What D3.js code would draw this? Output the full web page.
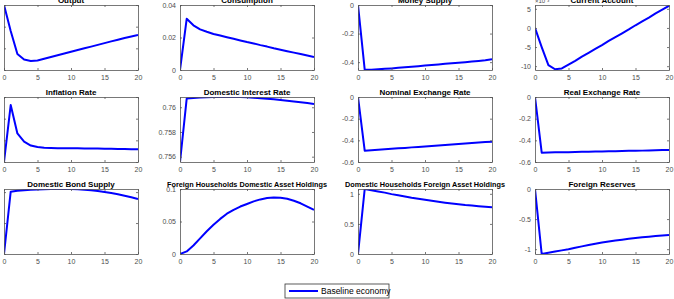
<!DOCTYPE html>
<html lang="en">
<head>
<meta charset="UTF-8">
<title>Impulse responses</title>
<script src="https://d3js.org/d3.v7.min.js"></script>
<style>
  body { margin: 0; background: #fff; font-family: "Liberation Sans", Arial, sans-serif; }
  svg { display: block; }
  .tick text { fill: #4d4d4d; font-size: 7px; }
  .title { font-size: 8px; font-weight: bold; fill: #000; }
</style>
</head>
<body>
<svg id="chart" width="674" height="299"></svg>
<script>
// periods after the shock
const periods = [0,1,2,3,4,5,6,7,8,9,10,11,12,13,14,15,16,17,18,19,20];

const titles = [
  "Output", "Consumption", "Money Supply", "Current Account",
  "Inflation Rate", "Domestic Interest Rate", "Nominal Exchange Rate", "Real Exchange Rate",
  "Domestic Bond Supply", "Foreign Households Domestic Asset Holdings",
  "Domestic Households Foreign Asset Holdings", "Foreign Reserves"
];

// responses
const output = [0, -0.12, -0.226, -0.252, -0.258, -0.256, -0.248, -0.240, -0.232, -0.224, -0.216,
  -0.208, -0.200, -0.192, -0.184, -0.176, -0.168, -0.160, -0.152, -0.145, -0.138];
const consumption = [0, 0.0315, 0.0275, 0.025, 0.0235, 0.0222, 0.0212, 0.0202, 0.0192, 0.0182, 0.0172,
  0.0163, 0.0153, 0.0144, 0.0134, 0.0125, 0.0116, 0.0107, 0.0098, 0.0089, 0.008];
const moneySupply = [0, -0.452, -0.453, -0.45, -0.447, -0.444, -0.44, -0.436, -0.432, -0.428, -0.424,
  -0.42, -0.416, -0.412, -0.408, -0.404, -0.4, -0.396, -0.392, -0.387, -0.38];
const currentAccount = [0, -0.005, -0.0097, -0.0108, -0.0106, -0.0096, -0.0086, -0.0075, -0.0065, -0.0055, -0.0045,
  -0.0034, -0.0024, -0.0014, -0.0004, 0.0007, 0.0017, 0.0027, 0.0038, 0.0048, 0.0058];
const inflation = [0, 0.263, 0.132, 0.094, 0.076, 0.069, 0.066, 0.065, 0.064, 0.064, 0.063,
  0.063, 0.062, 0.062, 0.062, 0.061, 0.061, 0.060, 0.060, 0.059, 0.059];
const interestRate = [0.75557, 0.7607, 0.76075, 0.76078, 0.7608, 0.76082, 0.76083, 0.76083, 0.76083, 0.76082, 0.7608,
  0.76077, 0.76073, 0.76069, 0.76064, 0.76058, 0.76052, 0.76046, 0.7604, 0.76034, 0.76027];
const nominalFx = [0, -0.496, -0.492, -0.487, -0.483, -0.478, -0.474, -0.47, -0.465, -0.461, -0.456,
  -0.452, -0.447, -0.443, -0.438, -0.434, -0.43, -0.425, -0.421, -0.416, -0.412];
const realFx = [0, -0.514, -0.513, -0.511, -0.51, -0.509, -0.508, -0.506, -0.505, -0.504, -0.502,
  -0.501, -0.5, -0.499, -0.497, -0.496, -0.495, -0.493, -0.492, -0.49, -0.489];
const bondSupply = [0, 1.006, 1.02, 1.03, 1.037, 1.042, 1.046, 1.049, 1.05, 1.05, 1.049,
  1.045, 1.038, 1.029, 1.017, 1.002, 0.984, 0.964, 0.941, 0.916, 0.888];
const foreignDomAssets = [0, 0.004, 0.013, 0.024, 0.035, 0.045, 0.054, 0.062, 0.068, 0.073, 0.077,
  0.081, 0.084, 0.086, 0.087, 0.0865, 0.085, 0.082, 0.078, 0.073, 0.068];
const domForeignAssets = [0, 1.078, 1.06, 1.04, 1.02, 0.995, 0.975, 0.955, 0.935, 0.918, 0.9,
  0.883, 0.868, 0.853, 0.84, 0.828, 0.815, 0.805, 0.795, 0.784, 0.775];
const reserves = [0, -1.08, -1.06, -1.04, -1.02, -1.0, -0.975, -0.953, -0.932, -0.91, -0.89,
  -0.873, -0.857, -0.842, -0.828, -0.815, -0.803, -0.792, -0.782, -0.773, -0.765];

const series = [output, consumption, moneySupply, currentAccount,
  inflation, interestRate, nominalFx, realFx,
  bondSupply, foreignDomAssets, domForeignAssets, reserves];

const yDomains = [
  [-0.3, 0], [0, 0.04], [-0.455, 0], [-0.011, 0.006],
  [0, 0.3], [0.75557, 0.76083], [-0.6, 0], [-0.6, 0],
  [0, 1.05], [0, 0.1], [0, 1.08], [-1.08, 0]
];
const yTicks = [
  [-0.3, -0.2, -0.1, 0], [0, 0.02, 0.04], [-0.4, -0.2, 0], [-0.01, -0.005, 0, 0.005],
  [0, 0.1, 0.2, 0.3], [0.756, 0.758, 0.76], [-0.6, -0.4, -0.2, 0], [-0.6, -0.4, -0.2, 0],
  [0, 0.5, 1], [0, 0.05, 0.1], [0, 0.5, 1], [-1, -0.5, 0]
];
const xTicks = [0, 5, 10, 15, 20];
const legendLabel = "Baseline economy";

const svg = d3.select("#chart");
const colX = [4, 180, 358, 535];
const rowY = [5, 97, 189];
const w = 134, h = 65;
const axisColor = "#555";
const lineColor = "#0000ff";

const fmt = v => String(+v.toFixed(4));

series.forEach((vals, i) => {
  const col = i % 4, row = Math.floor(i / 4);
  const g = svg.append("g").attr("transform", `translate(${colX[col]},${rowY[row]})`);

  const x = d3.scaleLinear().domain([0, 20]).range([0, w]);
  const y = d3.scaleLinear().domain(yDomains[i]).range([h, 0]);
  const tickFmt = i === 3 ? (v => String(Math.round(v * 1000))) : fmt;

  g.append("clipPath").attr("id", "clip" + i)
    .append("rect").attr("width", w).attr("height", h);

  g.append("path")
    .datum(vals)
    .attr("clip-path", `url(#clip${i})`)
    .attr("fill", "none")
    .attr("stroke", lineColor)
    .attr("stroke-width", 2)
    .attr("stroke-linejoin", "round")
    .attr("d", d3.line().x((d, k) => x(periods[k])).y(d => y(d)));

  // axes with ticks inside, mirrored on top and right
  g.append("g").attr("transform", `translate(0,${h})`)
    .call(d3.axisBottom(x).tickValues(xTicks).tickSizeInner(-2).tickSizeOuter(0).tickPadding(5).tickFormat(fmt));
  g.append("g")
    .call(d3.axisLeft(y).tickValues(yTicks[i]).tickSizeInner(-2).tickSizeOuter(0).tickPadding(4).tickFormat(tickFmt));
  g.append("g")
    .call(d3.axisTop(x).tickValues(xTicks).tickSizeInner(-2).tickSizeOuter(0).tickFormat(""));
  g.append("g").attr("transform", `translate(${w},0)`)
    .call(d3.axisRight(y).tickValues(yTicks[i]).tickSizeInner(-2).tickSizeOuter(0).tickFormat(""));
  g.selectAll(".domain, .tick line").attr("stroke", axisColor).attr("stroke-width", 0.8);
  g.selectAll(".tick text").attr("font-family", "Liberation Sans, Arial, sans-serif");

  if (i === 3) {
    g.append("text").attr("x", 0).attr("y", -2)
      .attr("font-size", 6).attr("fill", "#4d4d4d")
      .text("\u00d710\u207b\u00b3");
  }

  g.append("text").attr("class", "title")
    .attr("x", w / 2).attr("y", -2)
    .attr("text-anchor", "middle")
    .attr("textLength", titles[i].length > 30 ? 160 : null)
    .attr("lengthAdjust", "spacingAndGlyphs")
    .text(titles[i]);
});

// legend
const lg = svg.append("g").attr("transform", "translate(285,284)");
lg.append("rect").attr("width", 104).attr("height", 14)
  .attr("fill", "#fff").attr("stroke", "#333").attr("stroke-width", 0.8);
lg.append("line").attr("x1", 4).attr("x2", 33).attr("y1", 7).attr("y2", 7)
  .attr("stroke", lineColor).attr("stroke-width", 2);
lg.append("text").attr("x", 36).attr("y", 10.3)
  .attr("font-size", 8.5).attr("fill", "#000")
  .text(legendLabel);
</script>
</body>
</html>
